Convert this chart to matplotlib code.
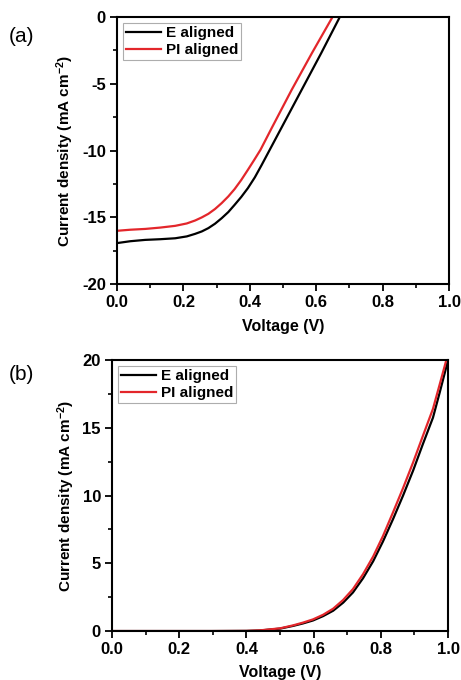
import matplotlib
matplotlib.use('Agg')
import matplotlib.pyplot as plt
from matplotlib.ticker import MultipleLocator, FormatStrFormatter

plt.rcParams['font.family'] = ['Liberation Sans', 'DejaVu Sans']
plt.rcParams['font.weight'] = 'bold'
plt.rcParams['axes.unicode_minus'] = False
plt.rcParams['mathtext.fontset'] = 'custom'
plt.rcParams['mathtext.rm'] = 'Liberation Sans:bold'
plt.rcParams['mathtext.it'] = 'Liberation Sans:bold'
plt.rcParams['mathtext.bf'] = 'Liberation Sans:bold'

# (a) J-V under illumination
va_e = [0.0, 0.04, 0.085, 0.13, 0.175, 0.21, 0.235, 0.255, 0.275, 0.295, 0.315, 0.335, 0.354,
        0.374, 0.394, 0.415, 0.435, 0.495, 0.555, 0.615, 0.671, 0.69]
ja_e = [-16.92, -16.78, -16.68, -16.63, -16.56, -16.42, -16.23, -16.05, -15.8, -15.47, -15.06,
        -14.6, -14.06, -13.47, -12.81, -12.0, -11.1, -8.3, -5.5, -2.7, 0.0, 0.9]
va_pi = [0.0, 0.04, 0.085, 0.13, 0.175, 0.21, 0.235, 0.255, 0.275, 0.295, 0.315, 0.335, 0.354,
         0.374, 0.394, 0.413, 0.432, 0.466, 0.526, 0.587, 0.649, 0.67]
ja_pi = [-16.0, -15.92, -15.86, -15.76, -15.63, -15.45, -15.23, -15.0, -14.73, -14.37, -13.93,
         -13.43, -12.88, -12.2, -11.44, -10.7, -9.94, -8.3, -5.45, -2.7, 0.0, 0.95]

# (b) dark J-V
vb_e = [0.0, 0.1, 0.2, 0.3, 0.4, 0.44, 0.5, 0.539, 0.568, 0.598, 0.628, 0.658, 0.688, 0.717,
        0.747, 0.777, 0.806, 0.836, 0.866, 0.896, 0.925, 0.955, 0.975, 1.0]
jb_e = [0.0, 0.0, 0.0, 0.0, 0.01, 0.04, 0.18, 0.38, 0.56, 0.78, 1.1, 1.5, 2.1, 2.85,
        3.9, 5.15, 6.6, 8.25, 10.0, 11.85, 13.8, 15.75, 17.6, 20.0]
vb_pi = [0.0, 0.1, 0.2, 0.3, 0.4, 0.44, 0.5, 0.539, 0.568, 0.598, 0.628, 0.658, 0.688, 0.717,
         0.747, 0.777, 0.806, 0.836, 0.866, 0.896, 0.925, 0.955, 0.975, 0.998]
jb_pi = [0.0, 0.0, 0.0, 0.0, 0.01, 0.05, 0.2, 0.42, 0.62, 0.86, 1.2, 1.65, 2.3, 3.1,
         4.2, 5.5, 7.0, 8.75, 10.55, 12.45, 14.4, 16.4, 18.2, 20.3]

labels = ['E aligned', 'PI aligned']
colors = ['black', '#e3262b']

fig = plt.figure(figsize=(4.61, 6.8), dpi=100)
ax1 = fig.add_axes([0.254, 0.582, 0.720, 0.393])
ax2 = fig.add_axes([0.243, 0.072, 0.729, 0.3985])

ax1.plot(va_e, ja_e, color=colors[0], lw=1.6, label=labels[0])
ax1.plot(va_pi, ja_pi, color=colors[1], lw=1.6, label=labels[1])
ax2.plot(vb_e, jb_e, color=colors[0], lw=1.6, label=labels[0])
ax2.plot(vb_pi, jb_pi, color=colors[1], lw=1.6, label=labels[1])

ax1.set_ylim(-20, 0)
ax2.set_ylim(0, 20)
for ax in (ax1, ax2):
    ax.set_xlim(0, 1.0)
    ax.xaxis.set_major_locator(MultipleLocator(0.2))
    ax.xaxis.set_minor_locator(MultipleLocator(0.1))
    ax.yaxis.set_major_locator(MultipleLocator(5))
    ax.yaxis.set_minor_locator(MultipleLocator(2.5))
    ax.xaxis.set_major_formatter(FormatStrFormatter('%.1f'))
    ax.tick_params(which='major', direction='out', length=5, width=1.3, labelsize=12, pad=3)
    ax.tick_params(which='minor', direction='out', length=3, width=1.2)
    ax.tick_params(top=False, right=False)
    for s in ax.spines.values():
        s.set_linewidth(1.5)
    ax.set_xlabel('Voltage (V)', fontsize=11.5, fontweight='bold', labelpad=6)
    ax.set_ylabel('Current density (mA cm$^{-2}$)', fontsize=11, fontweight='bold', labelpad=4)
    leg = ax.legend(loc='upper left', fontsize=11, frameon=True, fancybox=False,
                    edgecolor='#999999', handlelength=2.3, borderpad=0.2,
                    labelspacing=0.2, handletextpad=0.3, borderaxespad=0.4)
    leg.get_frame().set_linewidth(0.8)

fig.text(0.02, 0.947, '(a)', fontsize=15, fontweight='normal', va='center')
fig.text(0.02, 0.450, '(b)', fontsize=15, fontweight='normal', va='center')

plt.savefig('out.png', dpi=100)
